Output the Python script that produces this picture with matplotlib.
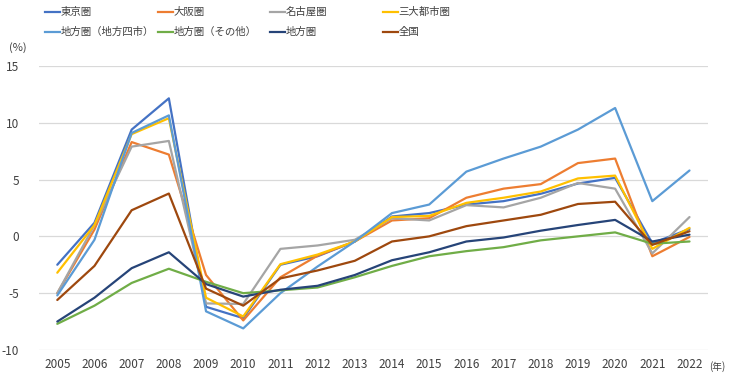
import matplotlib
matplotlib.use("Agg")
import matplotlib.pyplot as plt
from matplotlib.lines import Line2D

plt.rcParams['font.family'] = ['Noto Sans CJK JP', 'DejaVu Sans']

years = [str(y) for y in range(2005, 2023)]

tokyo   = [-2.5, 1.2, 9.4, 12.15, -6.2, -7.2, -2.5, -1.75, -0.45, 1.75, 2.05, 2.8, 3.1, 3.75, 4.65, 5.15, -0.6, 0.65]
osaka   = [-5.0, 0.6, 8.3, 7.2, -3.4, -7.4, -3.6, -1.7, -0.45, 1.4, 1.6, 3.4, 4.2, 4.6, 6.45, 6.85, -1.75, -0.05]
nagoya  = [-5.0, 1.0, 7.9, 8.4, -5.9, -5.95, -1.1, -0.8, -0.3, 1.6, 1.4, 2.75, 2.55, 3.4, 4.7, 4.2, -1.5, 1.7]
sandai  = [-3.2, 1.0, 9.0, 10.4, -5.4, -7.05, -2.45, -1.6, -0.45, 1.7, 1.8, 2.95, 3.4, 3.95, 5.1, 5.35, -1.1, 0.75]
yonshi  = [-5.2, -0.3, 9.1, 10.65, -6.6, -8.1, -5.0, -2.65, -0.45, 2.05, 2.8, 5.7, 6.85, 7.9, 9.4, 11.3, 3.1, 5.8]
sonota  = [-7.7, -6.1, -4.1, -2.85, -4.0, -5.0, -4.75, -4.5, -3.6, -2.6, -1.75, -1.3, -0.95, -0.35, 0.0, 0.35, -0.65, -0.45]
chiho   = [-7.5, -5.4, -2.8, -1.4, -4.2, -5.3, -4.7, -4.35, -3.4, -2.1, -1.4, -0.45, -0.1, 0.5, 1.0, 1.45, -0.45, 0.15]
zenkoku = [-5.6, -2.6, 2.3, 3.77, -4.6, -6.1, -3.7, -3.0, -2.15, -0.45, 0.0, 0.9, 1.4, 1.9, 2.85, 3.05, -0.75, 0.45]

names = ['東京圏', '大阪圏', '名古屋圏', '三大都市圏',
         '地方圏（地方四市）', '地方圏（その他）', '地方圏', '全国']
series = [tokyo, osaka, nagoya, sandai, yonshi, sonota, chiho, zenkoku]
colors = ['#4472C4', '#ED7D31', '#A5A5A5', '#FFC000',
          '#5B9BD5', '#70AD47', '#264478', '#9E480E']
yticks = [-10, -5, 0, 5, 10, 15]

fig = plt.figure(figsize=(7.3, 3.88), dpi=100)
ax = fig.add_axes([0.053, 0.098, 0.917, 0.732])

x = list(range(len(years)))
for s, c in zip(series, colors):
    ax.plot(x, s, color=c, lw=1.6, solid_joinstyle='round', solid_capstyle='round')

ax.set_xlim(-0.5, len(years) - 0.5)
ax.set_ylim(-10, 15)
ax.set_yticks(yticks)
ax.set_yticklabels([str(t) for t in yticks])
ax.set_xticks(x)
ax.set_xticklabels(years)
ax.tick_params(axis='both', length=0, labelsize=8.5, colors='#404040')
ax.tick_params(axis='y', pad=14)
ax.tick_params(axis='x', pad=6)
for sp in ax.spines.values():
    sp.set_visible(False)
ax.grid(axis='y', color='#D9D9D9', lw=0.9)
ax.set_axisbelow(True)

fig.text(9 / 730, 1 - 48 / 388, '(%)', fontsize=8, color='#404040', va='center', ha='left')
fig.text(709 / 730, 1 - 367 / 388, '(年)', fontsize=7, color='#404040', va='center', ha='left')

# legend
col_x = [45, 158, 270, 383]
row_y = [12, 32]
for i, (n, c) in enumerate(zip(names, colors)):
    r, k = divmod(i, 4)
    x0 = col_x[k] / 730
    y0 = 1 - row_y[r] / 388
    fig.add_artist(Line2D([x0, x0 + 15 / 730], [y0, y0], color=c, lw=1.6,
                          transform=fig.transFigure))
    fig.text(x0 + 15.5 / 730, y0, n, fontsize=7.5, color='#404040', va='center', ha='left')

fig.savefig('out.png', dpi=100)
